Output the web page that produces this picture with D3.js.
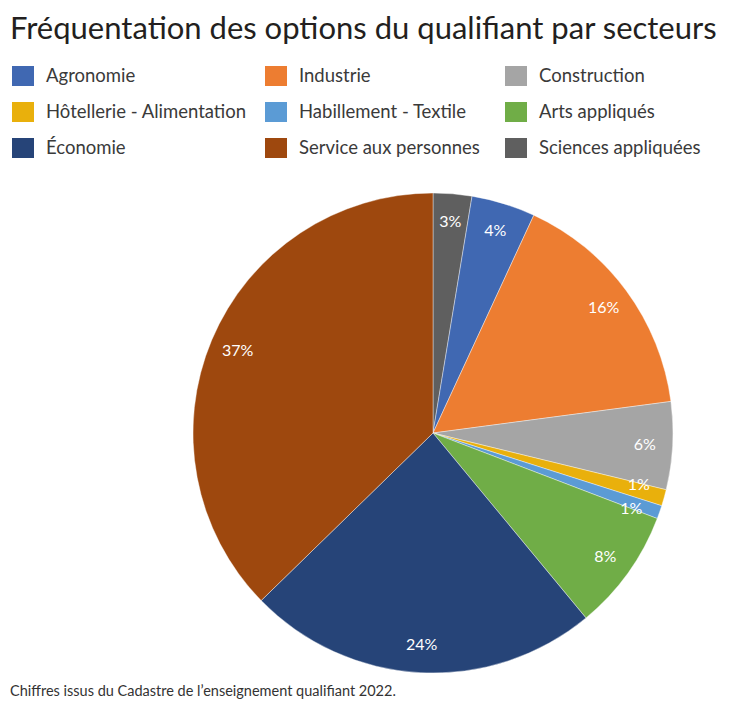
<!DOCTYPE html>
<html>
<head>
<meta charset="utf-8">
<script src="https://cdn.jsdelivr.net/npm/d3@7"></script>
<style>
  body { margin: 0; background: #fff; }
  text { font-family: Lato, "Open Sans", sans-serif; }
</style>
</head>
<body>
<div id="app"></div>
<script>
const secteurs = [
  "Sciences appliquées", "Agronomie", "Industrie", "Construction",
  "Hôtellerie - Alimentation", "Habillement - Textile", "Arts appliqués",
  "Économie", "Service aux personnes"
];
const parts = [2.6, 4.3, 16.0, 5.9, 1.1, 0.9, 8.2, 23.7, 37.3];
const etiquettes = ["3%", "4%", "16%", "6%", "1%", "1%", "8%", "24%", "37%"];
const couleurs = {
  "Agronomie": "#4068b2",
  "Industrie": "#ed7d31",
  "Construction": "#a5a5a5",
  "Hôtellerie - Alimentation": "#e9b00c",
  "Habillement - Textile": "#5b9bd5",
  "Arts appliqués": "#70ad47",
  "Économie": "#264478",
  "Service aux personnes": "#9e480e",
  "Sciences appliquées": "#5f5f5f"
};
// legend order, row by row
const legende = [
  "Agronomie", "Industrie", "Construction",
  "Hôtellerie - Alimentation", "Habillement - Textile", "Arts appliqués",
  "Économie", "Service aux personnes", "Sciences appliquées"
];

const width = 730;
const height = 711;
const cx = 433;
const cy = 433;
const radius = 240;

const svg = d3.select("#app").append("svg")
  .attr("width", width)
  .attr("height", height);

svg.append("text")
  .attr("x", 10)
  .attr("y", 39)
  .attr("font-size", 31)
  .attr("fill", "#231f20")
  .text("Fréquentation des options du qualifiant par secteurs");

const colX = [12, 265, 505];
const rowY = [66, 102, 138];
const leg = svg.append("g")
  .selectAll("g")
  .data(legende)
  .join("g")
  .attr("transform", (d, i) => `translate(${colX[i % 3]},${rowY[Math.floor(i / 3)]})`);

leg.append("rect")
  .attr("width", 22)
  .attr("height", 20)
  .attr("fill", (d) => couleurs[d]);

leg.append("text")
  .attr("x", 34)
  .attr("y", 16)
  .attr("font-size", 18.5)
  .attr("fill", "#3a3a3a")
  .text((d) => d);

const pie = d3.pie().sort(null).value((d, i) => parts[i]);
const arcs = pie(secteurs);

const arc = d3.arc().innerRadius(0).outerRadius(radius);
const arcLabel = d3.arc().innerRadius(212).outerRadius(212);

// label positions, pushed apart when two small slices sit side by side
const pos = arcs.map((d) => arcLabel.centroid(d));
const minGap = 25;
for (let i = 0; i < pos.length - 1; i++) {
  const a = pos[i], b = pos[i + 1];
  const dx = b[0] - a[0], dy = b[1] - a[1];
  const dist = Math.hypot(dx, dy);
  if (dist < minGap) {
    const push = (minGap - dist) / 2;
    const ux = dx / dist, uy = dy / dist;
    a[0] -= ux * push; a[1] -= uy * push;
    b[0] += ux * push; b[1] += uy * push;
  }
}

const g = svg.append("g").attr("transform", `translate(${cx},${cy})`);

g.selectAll("path")
  .data(arcs)
  .join("path")
  .attr("d", arc)
  .attr("fill", (d) => couleurs[d.data])
  .attr("stroke", "#fff")
  .attr("stroke-width", 0.4);

g.selectAll("text")
  .data(arcs)
  .join("text")
  .attr("transform", (d, i) => `translate(${pos[i]})`)
  .attr("text-anchor", "middle")
  .attr("dy", "0.35em")
  .attr("font-size", 16)
  .attr("fill", "#fff")
  .text((d, i) => etiquettes[i]);

svg.append("text")
  .attr("x", 10)
  .attr("y", 696)
  .attr("font-size", 14.5)
  .attr("fill", "#333")
  .text("Chiffres issus du Cadastre de l’enseignement qualifiant 2022.");
</script>
</body>
</html>
